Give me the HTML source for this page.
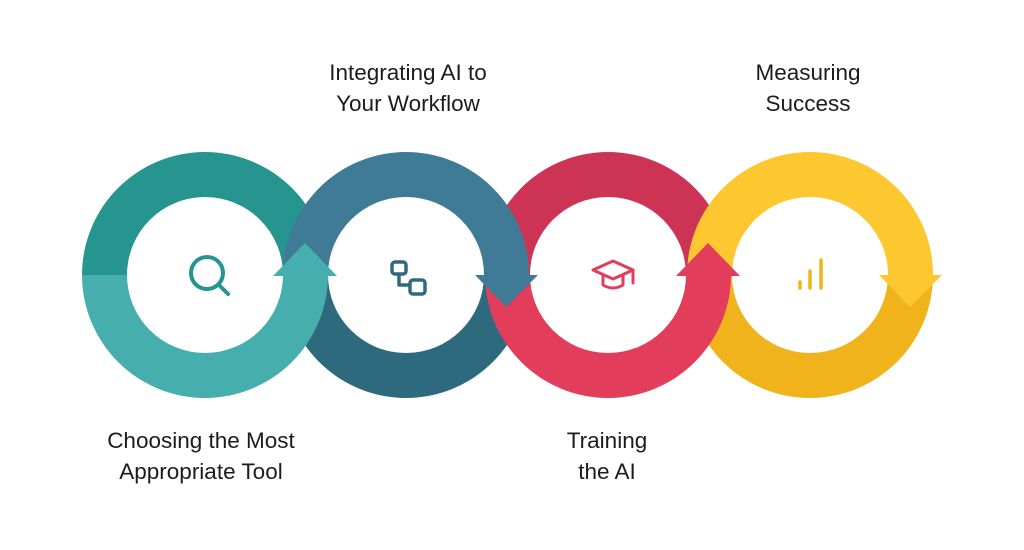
<!DOCTYPE html>
<html><head><meta charset="utf-8"><style>
html,body{margin:0;padding:0;background:#fff;}
body{width:1024px;height:550px;overflow:hidden;position:relative;font-family:"Liberation Sans",sans-serif;}
.t{position:absolute;text-align:center;color:#1c1c1c;font-size:22.5px;line-height:31px;width:300px;}
</style></head><body>
<svg width="1024" height="550" style="position:absolute;left:0;top:0">
<path d="M82,275 A123,123 0 0 1 328,275 L283,275 A78,78 0 0 0 127,275 Z" fill="#26958f"/>
<path d="M485,275 A123,123 0 0 1 731,275 L686,275 A78,78 0 0 0 530,275 Z" fill="#cc3354"/>
<path d="M283,275 A123,123 0 0 0 529,275 L484,275 A78,78 0 0 1 328,275 Z" fill="#2e6a7d"/>
<path d="M687,275 A123,123 0 0 0 933,275 L888,275 A78,78 0 0 1 732,275 Z" fill="#f1b31c"/>
<path d="M82,275 A123,123 0 0 0 328,275 L283,275 A78,78 0 0 1 127,275 Z" fill="#47aeae"/>
<path d="M485,275 A123,123 0 0 0 731,275 L686,275 A78,78 0 0 1 530,275 Z" fill="#e23d5b"/>
<path d="M283,275 A123,123 0 0 1 529,275 L484,275 A78,78 0 0 0 328,275 Z" fill="#3f7b96"/>
<polygon points="475,275 538,275 506,307" fill="#3f7b96"/>
<path d="M687,275 A123,123 0 0 1 933,275 L888,275 A78,78 0 0 0 732,275 Z" fill="#fdc82f"/>
<polygon points="879,275 942,275 910,307" fill="#fdc82f"/>
<polygon points="273,276 337,276 305,243" fill="#47aeae"/>
<polygon points="676,276 740,276 708,243" fill="#e23d5b"/>
<g fill="none" stroke="#26958f" stroke-width="4" stroke-linecap="round">
<circle cx="207" cy="273" r="16"/><line x1="219" y1="285" x2="228" y2="294"/>
</g>
<g fill="none" stroke="#2e6a7d" stroke-width="3.5" stroke-linejoin="round">
<rect x="392" y="262" width="14" height="12" rx="3"/>
<rect x="410" y="280" width="15" height="14" rx="3"/>
<path d="M399,274 L399,285 L410,285"/>
</g>
<g fill="none" stroke="#e23d5b" stroke-width="3" stroke-linejoin="round" stroke-linecap="round">
<path d="M593,270 L613,261 L633,270 L613,279 Z"/>
<path d="M603,276 L603,285 Q613,291 623,285 L623,276"/>
<line x1="633" y1="270" x2="633" y2="283"/>
</g>
<g stroke="#f1b31c" stroke-width="3.5" stroke-linecap="round">
<line x1="800" y1="282" x2="800" y2="288"/>
<line x1="810" y1="271" x2="810" y2="288"/>
<line x1="821" y1="260" x2="821" y2="288"/>
</g>
</svg>
<div class="t" style="left:258px;top:57px;">Integrating AI to<br>Your Workflow</div>
<div class="t" style="left:658px;top:57px;">Measuring<br>Success</div>
<div class="t" style="left:51px;top:425px;">Choosing the Most<br>Appropriate Tool</div>
<div class="t" style="left:457px;top:425px;">Training<br>the AI</div>
</body></html>
